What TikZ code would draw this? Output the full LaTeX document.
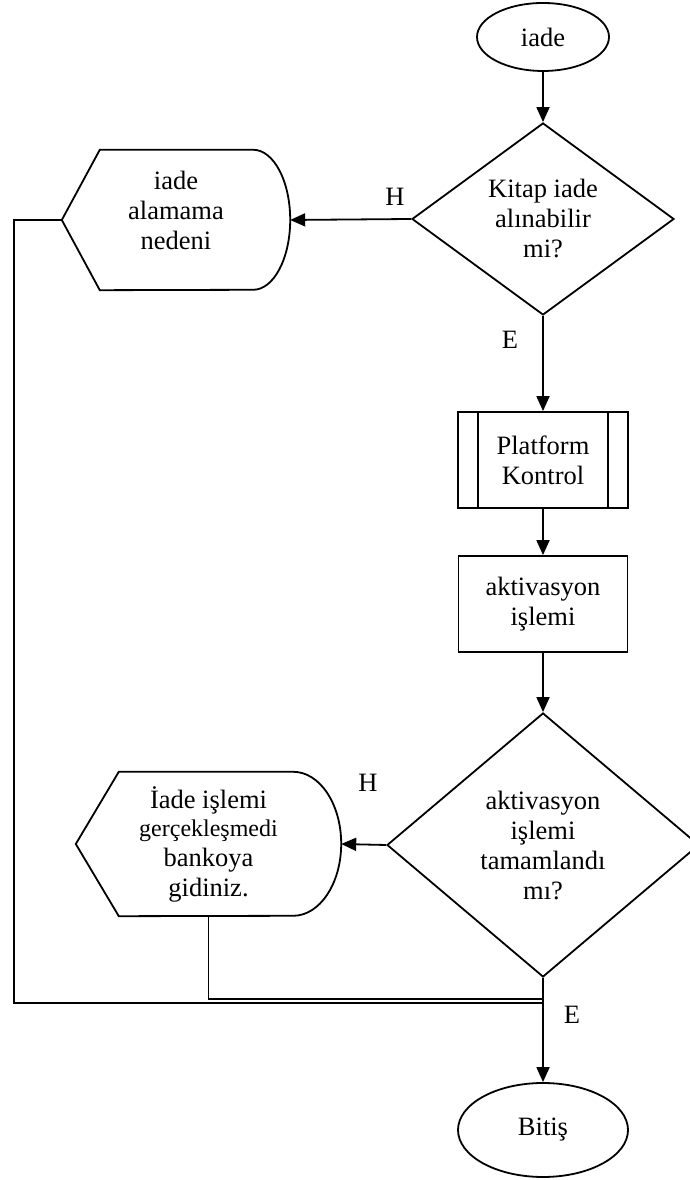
\documentclass[tikz,border=0pt]{standalone}
\usepackage{fontspec}
\setmainfont{Liberation Serif}
\usetikzlibrary{shapes.geometric,arrows.meta}
\begin{document}
\begin{tikzpicture}[x=1pt,y=1pt,
  every node/.style={font=\fontsize{26.5}{30}\selectfont},
  line/.style={line width=1.8pt},
  flow/.style={line width=1.8pt,-{Triangle[length=15pt,width=13pt]}},
  terminal/.style={ellipse,draw,line width=1.8pt,inner sep=0pt},
  decision/.style={diamond,draw,line width=1.8pt,inner sep=0pt,align=center},
  box/.style={rectangle,draw,line width=1.8pt,inner sep=0pt,align=center},
  holder/.style={rectangle,inner sep=0pt},
  txt/.style={inner sep=0pt,align=center},
  lbl/.style={inner sep=0pt}]
\useasboundingbox (0,0) rectangle (690,1180);

% main column
\node[terminal,minimum width=132,minimum height=68] (start) at (543,1143) {iade};
\node[decision,minimum width=262,minimum height=192] (q1) at (543,961) {Kitap iade\\alınabilir\\mi?};
\node[box,minimum width=170,minimum height=96] (pk) at (543,720) {Platform\\Kontrol};
\draw[line] ([xshift=21]pk.north west) -- ([xshift=21]pk.south west);
\draw[line] ([xshift=-21]pk.north east) -- ([xshift=-21]pk.south east);
\node[box,minimum width=169,minimum height=96] (act) at (543,576) {aktivasyon\\işlemi};
\node[decision,minimum width=312,minimum height=264] (q2) at (543,335) {aktivasyon\\işlemi\\tamamlandı\\mı?};
\node[terminal,minimum width=170,minimum height=94] (end) at (543,50) {Bitiş};

% display shape: reason for refusal
\node[holder,minimum width=228,minimum height=140] (d1) at (176,960) {};
\draw[line] (d1.west) -- ([xshift=38]d1.north west) -- ([xshift=-37]d1.north east)
  arc[start angle=90,end angle=-90,x radius=37,y radius=70]
  -- ([xshift=38]d1.south west) -- cycle;
\node[txt] (d1t) at (176,970) {iade\\alamama\\nedeni};

% display shape: failed activation
\node[holder,minimum width=265,minimum height=144] (d2) at (208.5,336) {};
\draw[line] (d2.west) -- ([xshift=43]d2.north west) -- ([xshift=-48]d2.north east)
  arc[start angle=90,end angle=-90,x radius=48,y radius=72]
  -- ([xshift=43]d2.south west) -- cycle;
\node[txt] (d2t) at (208.5,336) {İade işlemi\\[-2pt]{\fontsize{24}{27}\selectfont gerçekleşmedi}\\bankoya\\gidiniz.};

% branch labels
\node[lbl] (h1) at (395,983) {H};
\node[lbl] (e1) at (510,840) {E};
\node[lbl] (h2) at (368,397) {H};
\node[lbl] (e2) at (572,165) {E};

% connectors
\coordinate (j1) at (543,177);
\coordinate (j2) at (543,181);
\draw[flow] (start) -- (q1);
\draw[flow] (q1.west) -- (d1.east);
\draw[flow] (q1.south) -- (pk.north);
\draw[flow] (pk) -- (act);
\draw[flow] (act) -- (q2.north);
\draw[flow] (q2.west) -- (d2.east);
\draw[flow] (q2.south) -- (end.north);
\draw[line] (d1.west) -- ++(-48,0) |- (j1);
\draw[line] (d2.south) |- (j2);
\end{tikzpicture}
\end{document}
